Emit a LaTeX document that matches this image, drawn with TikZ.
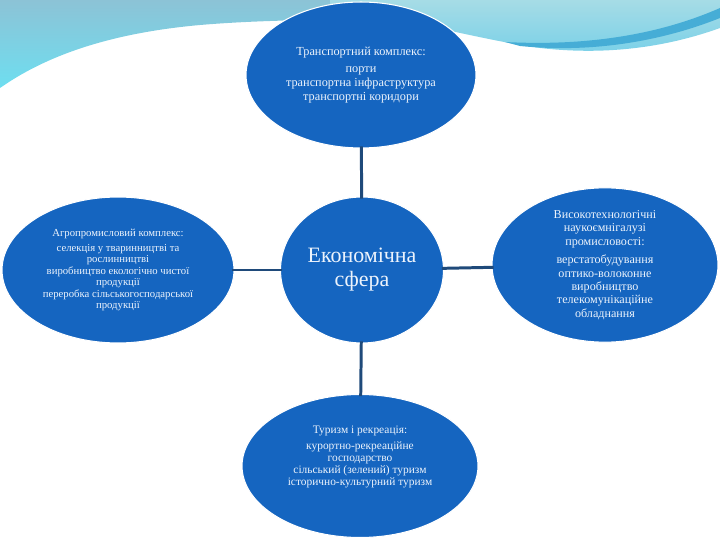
\documentclass[tikz,border=0pt]{standalone}
\usepackage{fontspec}
\setmainfont{Liberation Serif}
\usepackage{xcolor}
\usetikzlibrary{shapes.geometric}

\definecolor{nodeblue}{RGB}{21,101,192}
\definecolor{linkblue}{RGB}{31,74,122}
\definecolor{txtwhite}{RGB}{236,243,252}
\definecolor{wavetop}{RGB}{140,195,214}
\definecolor{wavecyan}{RGB}{110,222,240}
\definecolor{waveteal}{RGB}{166,220,230}
\definecolor{wavelow}{RGB}{120,208,232}
\definecolor{wavestripe}{RGB}{70,173,214}

\begin{document}
\begin{tikzpicture}
  [x=0.02cm,y=-0.02cm,
   every node/.style={ellipse,fill=nodeblue,draw=white,line width=0.6pt,
     text=txtwhite,align=center,inner sep=0pt},
   link/.style={draw=linkblue,line width=1.7pt,shorten <=-1.2pt,shorten >=-1.2pt}]
  \useasboundingbox (0,0) rectangle (720,540);

  % background waves
  \shade[top color=wavetop,bottom color=wavecyan]
    (0,0) -- (0,88) .. controls (40,60) and (100,34) .. (200,25)
    .. controls (260,20) and (300,21) .. (340,18) -- (340,0) -- cycle;
  \shade[top color=waveteal,bottom color=wavelow]
    (330,0) -- (330,12) .. controls (420,20) and (470,38) .. (540,48)
    .. controls (610,56) and (670,46) .. (720,28) -- (720,0) -- cycle;
  \fill[wavestripe] (505,42) .. controls (600,47) and (670,30) .. (720,8)
    -- (720,18) .. controls (670,38) and (600,54) .. (520,46) -- cycle;

  \node[minimum width=4.6cm,minimum height=2.92cm,font=\fontsize{7}{7.9}\selectfont]
    (transp) at (361,75)
    {Транспортний комплекс:\\[2pt] порти\\ транспортна інфраструктура\\ транспортні коридори};
  \node[minimum width=3.26cm,minimum height=2.92cm,font=\fontsize{12.5}{13.6}\selectfont]
    (econ) at (362,270) {Економічна\\ сфера};
  \node[minimum width=4.64cm,minimum height=2.92cm,font=\fontsize{6.1}{6.5}\selectfont]
    (agro) at (118,270)
    {Агропромисловий комплекс:\\[2pt] селекція у тваринництві та\\ рослинництві\\
     виробництво екологічно чистої\\ продукції\\ переробка сільськогосподарської\\ продукції};
  \node[minimum width=4.52cm,minimum height=2.9cm,font=\fontsize{6.9}{7.6}\selectfont]
    (hitech) at (605,265)
    {Високотехнологічні\\ наукоємнігалузі\\ промисловості:\\[3pt] верстатобудування\\
     оптико-волоконне\\ виробництво\\ телекомунікаційне\\ обладнання};
  \node[minimum width=4.72cm,minimum height=2.86cm,font=\fontsize{6.5}{6.8}\selectfont]
    (tour) at (360,466)
    {Туризм і рекреація:\\[2pt] курортно-рекреаційне\\ господарство\\
     сільський (зелений) туризм\\ історично-культурний туризм\\[5pt]};

  \foreach \from/\to in {transp/econ, agro/econ, econ/hitech, econ/tour}
    \draw[link] (\from) -- (\to);

\end{tikzpicture}
\end{document}
